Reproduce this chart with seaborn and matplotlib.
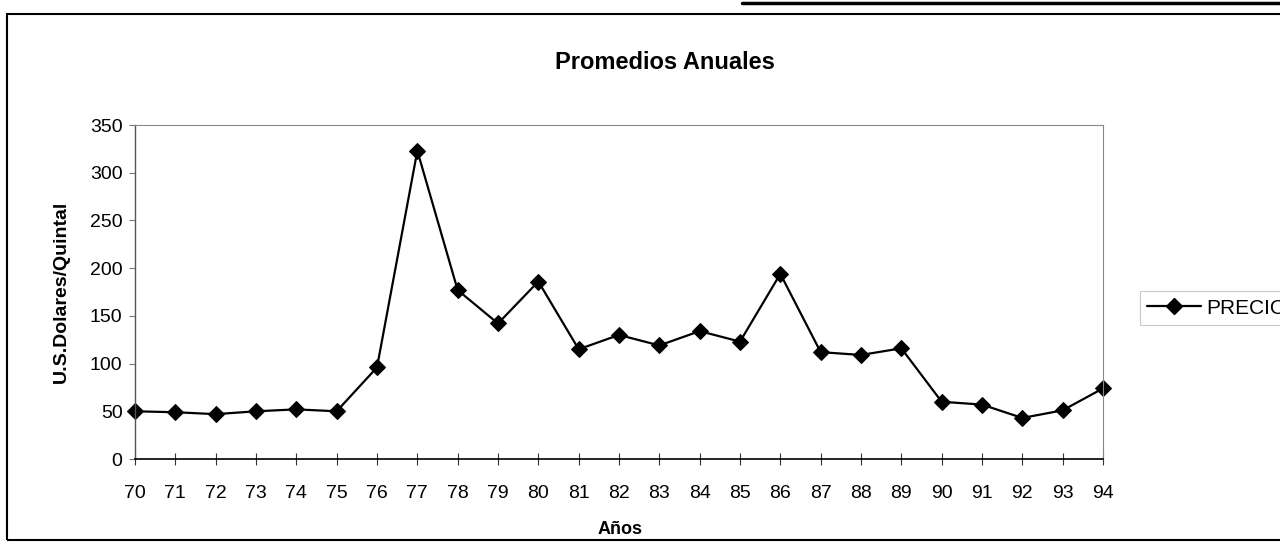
import numpy as np
import pandas as pd
import matplotlib
matplotlib.use('Agg')
import matplotlib.pyplot as plt
import matplotlib.patches as patches
from matplotlib.lines import Line2D
import seaborn as sns

# values
years = list(range(70, 95))
year_labels = [str(y) for y in years]
precio = [50, 49, 47, 50, 52, 50, 96, 323, 177, 142,
          186, 115, 130, 119, 134, 123, 194, 112, 109, 116,
          60, 57, 43, 51, 74]
y_ticks = [0, 50, 100, 150, 200, 250, 300, 350]

df = pd.DataFrame({'Años': years, 'PRECIO': precio})

sns.set_style('white')
plt.rcParams['font.family'] = ['Liberation Sans', 'DejaVu Sans']
plt.rcParams['text.color'] = 'black'
plt.rcParams['axes.labelcolor'] = 'black'
plt.rcParams['xtick.labelcolor'] = 'black'
plt.rcParams['ytick.labelcolor'] = 'black'

fig = plt.figure(figsize=(12.8, 5.5), dpi=100)
ax = fig.add_axes([135 / 1280, 1 - 459 / 550, 968 / 1280, 334 / 550])

sns.lineplot(data=df, x='Años', y='PRECIO', ax=ax, color='black',
             marker='D', markersize=8, linewidth=1.6, markeredgecolor='black',
             label='PRECIO', legend=False, clip_on=False)

ax.set_xlim(70, 94)
ax.set_ylim(0, 350)
ax.set_xticks(years)
ax.set_xticklabels(year_labels)
ax.set_yticks(y_ticks)
ax.tick_params(axis='x', direction='inout', length=8, width=0.8, pad=15,
               labelsize=14, color='#333333', labelcolor='black', bottom=True)
ax.tick_params(axis='y', direction='out', length=4, width=0.8, pad=5,
               labelsize=14, color='#777777', labelcolor='black', left=True)

for side in ['top', 'right']:
    ax.spines[side].set_visible(True)
    ax.spines[side].set_color('#888888')
    ax.spines[side].set_linewidth(0.8)
    ax.spines[side].set_linestyle((0, (2, 1)))
ax.spines['left'].set_color('#555555')
ax.spines['left'].set_linewidth(1.0)
ax.spines['bottom'].set_color('black')
ax.spines['bottom'].set_linewidth(1.2)

ax.set_xlabel('Años', fontsize=13, fontweight='bold', color='black')
ax.set_ylabel('U.S.Dolares/Quintal', fontsize=14, fontweight='bold', color='black')
ax.xaxis.set_label_coords(0.501, -0.185)
ax.yaxis.set_label_coords(-0.067, 0.5)

fig.text(665 / 1280, 1 - 62 / 550, 'Promedios Anuales', ha='center', va='center',
         fontsize=17, fontweight='bold', color='black')

handle = Line2D([], [], color='black', marker='D', markersize=8, linewidth=1.6)
leg = fig.legend([handle], ['PRECIO'], loc='center left',
                 bbox_to_anchor=(1140 / 1280, 1 - 308 / 550),
                 bbox_transform=fig.transFigure, fontsize=15,
                 handlelength=2.6, handletextpad=0.25, borderpad=0.35,
                 borderaxespad=0, frameon=True, fancybox=False,
                 edgecolor='#bbbbbb', labelcolor='black')
leg.get_frame().set_linewidth(0.8)

# outer chart border from the scan
border = patches.Rectangle((7 / 1280, 1 - 540 / 550), 1.0, (540 - 14) / 550,
                           transform=fig.transFigure, fill=False,
                           edgecolor='black', linewidth=1.5, clip_on=False)
fig.patches.append(border)
fig.add_artist(Line2D([0.58, 1.0], [1 - 3 / 550, 1 - 3 / 550],
                      transform=fig.transFigure, color='black', linewidth=2.5))

fig.savefig('out.png', dpi=100)
